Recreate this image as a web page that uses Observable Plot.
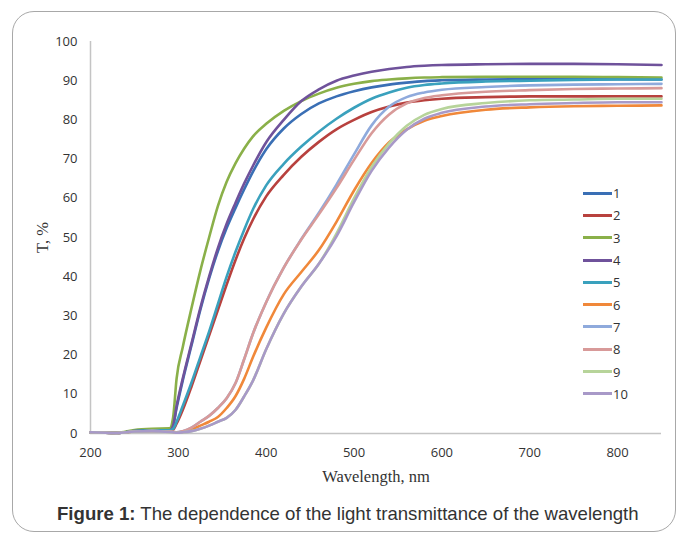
<!DOCTYPE html>
<html>
<head>
<meta charset="utf-8">
<script src="https://cdn.jsdelivr.net/npm/d3@7"></script>
<script src="https://cdn.jsdelivr.net/npm/@observablehq/plot@0.6"></script>
<style>
  html, body { margin: 0; padding: 0; background: #fff; }
  #wrap { position: relative; width: 679px; height: 535px; overflow: hidden; background: #fff; }
  #frame { position: absolute; left: 12px; top: 11px; width: 664px; height: 521px; border: 1px solid #a8a8a8; border-radius: 22px; box-sizing: border-box; }
  #chart { position: absolute; left: 0; top: 0; }
  #legend { position: absolute; left: 583px; top: 182px; font-family: "Open Sans", sans-serif; font-size: 13px; color: #333; }
  #legend .row { height: 22.3px; display: flex; align-items: center; }
  #legend .sw { width: 29px; height: 3px; margin-right: 1px; }
  #caption { position: absolute; left: 57px; top: 503px; font-family: "Liberation Sans", Arial, sans-serif; font-size: 18.6px; color: #333; white-space: nowrap; }
  #chart svg g[aria-label="y-axis label"] text,
  #chart svg g[aria-label="x-axis label"] text { font-family: "Liberation Serif", serif; font-size: 16.5px; fill: #333; }
  #chart svg g[aria-label="y-axis tick label"] text,
  #chart svg g[aria-label="x-axis tick label"] text { font-family: "Open Sans", sans-serif; font-size: 13px; fill: #333; }
</style>
</head>
<body>
<div id="wrap">
  <div id="frame"></div>
  <div id="chart"></div>
  <div id="legend"></div>
  <div id="caption"><b>Figure 1:</b> The dependence of the light transmittance of the wavelength</div>
</div>
<script>
// Wavelength sample points (nm)
const wavelengths = [200, 230, 250, 270, 290, 294, 298, 305, 315, 325, 335, 345, 355, 365, 375, 385, 400, 420, 440, 460, 480, 500, 520, 540, 560, 580, 600, 650, 700, 750, 800, 850];

// Transmittance T, % for each sample
const s1  = [0.3, 0.1, 0.6, 0.8, 0.8, 2, 6.5, 13.5, 22.5, 31.5, 39.5, 46.5, 52.4, 57.5, 62.3, 66.8, 72.5, 77.8, 81.5, 84.2, 86, 87.3, 88.3, 89, 89.5, 89.9, 90.1, 90.3, 90.4, 90.4, 90.4, 90.3];
const s2  = [0.3, 0.1, 0.6, 0.8, 0.8, 1, 2.5, 6, 12, 18.5, 25, 31.5, 38, 44.2, 49.8, 54.6, 60.5, 66, 70.6, 74.4, 77.6, 80, 82, 83.4, 84.4, 85, 85.4, 85.8, 86, 86, 86, 86];
const s3  = [0.3, 0.2, 0.9, 1.2, 1.3, 4, 14, 22, 32, 41.5, 50, 58, 64.2, 68.9, 72.7, 75.8, 79, 82.3, 84.8, 86.7, 88.2, 89.2, 89.9, 90.3, 90.6, 90.8, 90.9, 91, 91, 91, 90.9, 90.8];
const s4  = [0.3, 0.1, 0.6, 0.8, 0.8, 2, 7, 14, 23, 32, 40, 47.3, 53.5, 58.8, 63.8, 68.3, 74.3, 80, 84.8, 87.8, 90, 91.3, 92.3, 93, 93.5, 93.8, 94, 94.2, 94.3, 94.3, 94.2, 94];
const s5  = [0.3, 0.1, 0.6, 0.8, 0.8, 1.2, 3, 7, 13, 19.5, 26, 33, 40, 46.3, 52, 57.2, 63.3, 68.8, 73.2, 77, 80.3, 83.1, 85.4, 87, 88.2, 88.9, 89.3, 89.8, 90, 90.2, 90.3, 90.3];
const s6  = [0.3, 0.1, 0.5, 0.6, 0.5, 0.4, 0.3, 0.4, 1, 2, 3, 4.2, 6.5, 9.5, 14, 19.5, 27, 35.5, 41.2, 46.8, 54, 62, 69, 74.3, 77.6, 79.8, 81, 82.6, 83.2, 83.5, 83.6, 83.7];
const s7  = [0.3, 0.1, 0.5, 0.6, 0.5, 0.4, 0.3, 0.6, 1.5, 3, 4.5, 6.5, 9, 12.8, 19, 25.5, 33.5, 42.3, 49.6, 56.3, 63.5, 71.2, 78.6, 83.4, 85.8, 87, 87.7, 88.4, 88.8, 89, 89.1, 89.2];
const s8  = [0.3, 0.1, 0.5, 0.6, 0.5, 0.4, 0.3, 0.6, 1.5, 3, 4.5, 6.5, 9, 12.8, 19, 25.5, 33.5, 42.3, 49.5, 55.9, 62.6, 69.8, 76.6, 81.4, 84.2, 85.6, 86.3, 87.2, 87.6, 87.9, 88, 88.1];
const s9  = [0.3, 0.1, 0.5, 0.6, 0.4, 0.3, 0.2, 0.3, 0.6, 1.2, 2, 3, 4, 6, 9.5, 13.5, 21.5, 30.6, 37.5, 43.3, 51, 60, 68, 74, 78.5, 81.3, 82.8, 84.3, 85, 85.2, 85.4, 85.4];
const s10 = [0.3, 0.1, 0.5, 0.6, 0.4, 0.3, 0.2, 0.3, 0.6, 1.2, 2, 3, 4, 6, 9.5, 13.5, 21.5, 30.6, 37.5, 43.3, 50.3, 59, 67, 73, 77.5, 80.3, 81.8, 83.4, 84, 84.3, 84.5, 84.5];

const seriesNames = ["1", "2", "3", "4", "5", "6", "7", "8", "9", "10"];
const seriesValues = [s1, s2, s3, s4, s5, s6, s7, s8, s9, s10];
const seriesColors = ["#3A6FB5", "#B8413E", "#8AB049", "#6F529B", "#3AA1BD", "#F0883A", "#8FAADC", "#D89A99", "#B7D49A", "#A899C8"];

const xTicks = [200, 300, 400, 500, 600, 700, 800];
const yTicks = [0, 10, 20, 30, 40, 50, 60, 70, 80, 90, 100];

const rows = [];
seriesNames.forEach((name, i) => {
  wavelengths.forEach((w, j) => rows.push({series: name, wl: w, T: seriesValues[i][j]}));
});

const chart = Plot.plot({
  width: 679,
  height: 490,
  marginTop: 41,
  marginBottom: 57,
  marginLeft: 90,
  marginRight: 18,
  style: {background: "transparent"},
  x: {domain: [200, 850], ticks: xTicks, label: "Wavelength, nm", labelAnchor: "center", labelArrow: "none", tickSize: 0, tickPadding: 14, labelOffset: 48},
  y: {domain: [0, 100], ticks: yTicks, label: "T, %", labelAnchor: "center", labelArrow: "none", tickSize: 0, tickPadding: 13, labelOffset: 54},
  color: {domain: seriesNames, range: seriesColors},
  marks: [
    Plot.ruleY([0], {stroke: "#c4c4c4", strokeWidth: 1.5}),
    Plot.ruleX([200], {stroke: "#c4c4c4", strokeWidth: 1.5}),
    Plot.line(rows, {x: "wl", y: "T", z: "series", stroke: "series", curve: "monotone-x", strokeWidth: 2.6})
  ]
});
document.getElementById("chart").appendChild(chart);

const legend = document.getElementById("legend");
seriesNames.forEach((name, i) => {
  const row = document.createElement("div");
  row.className = "row";
  const sw = document.createElement("span");
  sw.className = "sw";
  sw.style.background = seriesColors[i];
  const lab = document.createElement("span");
  lab.textContent = name;
  row.appendChild(sw);
  row.appendChild(lab);
  legend.appendChild(row);
});
</script>
</body>
</html>
